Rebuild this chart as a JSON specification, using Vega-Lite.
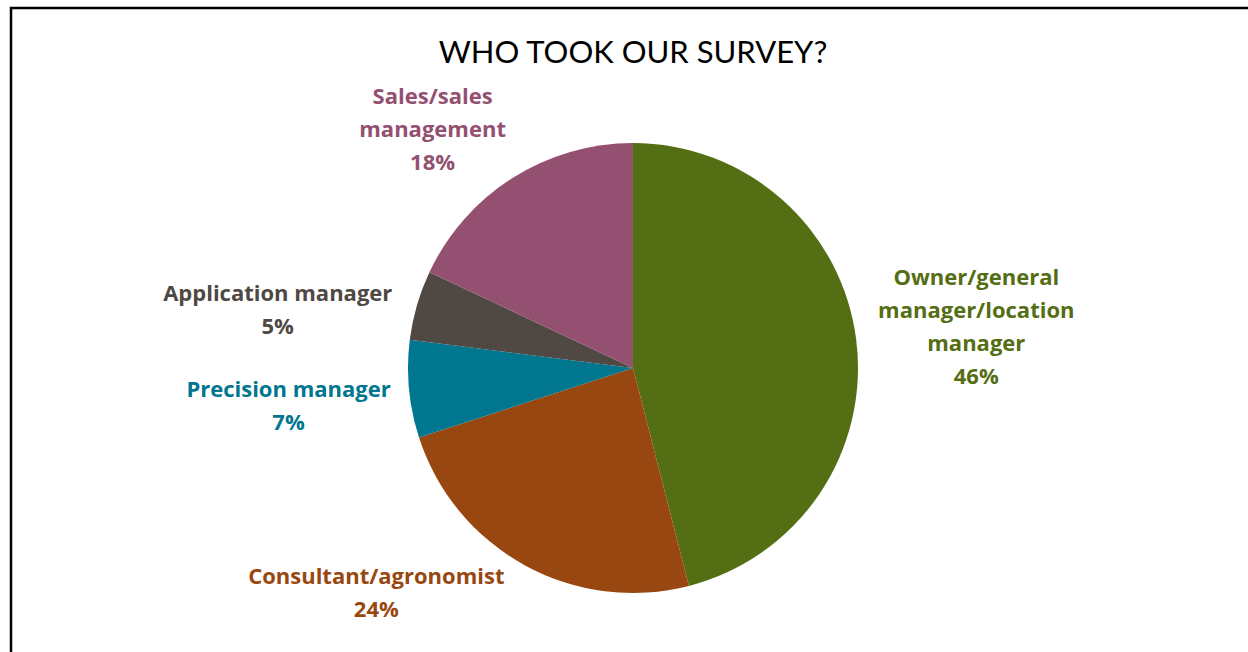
{
  "$schema": "https://vega.github.io/schema/vega-lite/v6.json",
  "width": 1244,
  "height": 720,
  "autosize": {"type": "none"},
  "padding": {"left": 11, "top": 8, "right": -7, "bottom": -76},
  "background": "white",
  "title": {"text": "WHO TOOK OUR SURVEY?", "font": "Lato", "fontSize": 31, "fontWeight": "normal", "color": "#000000", "anchor": "middle", "frame": "group", "offset": -99},
  "data": {"values": [
    {"idx": 1, "category": "Owner/general manager/location manager", "pct": 46, "label": "Owner/general\nmanager/location\nmanager\n46%"},
    {"idx": 2, "category": "Consultant/agronomist", "pct": 24, "label": "Consultant/agronomist\n24%"},
    {"idx": 3, "category": "Precision manager", "pct": 7, "label": "Precision manager\n7%"},
    {"idx": 4, "category": "Application manager", "pct": 5, "label": "Application manager\n5%"},
    {"idx": 5, "category": "Sales/sales management", "pct": 18, "label": "Sales/sales\nmanagement\n18%"}
  ]},
  "layer": [
    {"data": {"values": [{}]},
     "mark": {"type": "rect", "filled": false, "stroke": "#000000", "strokeWidth": 2.5},
     "encoding": {}},
    {"layer": [
      {"mark": {"type": "arc", "outerRadius": 225}},
      {"mark": {"type": "text", "radius": 346, "dy": -47, "font": "Open Sans", "fontSize": 22, "fontWeight": "bold", "lineBreak": "\n", "lineHeight": 33, "align": "center", "baseline": "middle"},
       "encoding": {"text": {"condition": {"test": "datum.idx == 1", "field": "label"}, "value": ""}}},
      {"mark": {"type": "text", "radius": 346, "dy": -11, "font": "Open Sans", "fontSize": 22, "fontWeight": "bold", "lineBreak": "\n", "lineHeight": 33, "align": "center", "baseline": "middle"},
       "encoding": {"text": {"condition": {"test": "datum.idx == 3", "field": "label"}, "value": ""}}},
      {"mark": {"type": "text", "radius": 346, "dx": -23, "dy": 23, "font": "Open Sans", "fontSize": 22, "fontWeight": "bold", "lineBreak": "\n", "lineHeight": 33, "align": "center", "baseline": "middle"},
       "encoding": {"text": {"condition": {"test": "datum.idx == 4", "field": "label"}, "value": ""}}},
      {"mark": {"type": "text", "radius": 346, "dx": -15, "dy": 21, "font": "Open Sans", "fontSize": 22, "fontWeight": "bold", "lineBreak": "\n", "lineHeight": 33, "align": "center", "baseline": "middle"},
       "encoding": {"text": {"condition": {"test": "datum.idx == 5", "field": "label"}, "value": ""}}},
      {"mark": {"type": "text", "radius": 346, "dx": -90, "dy": -94, "font": "Open Sans", "fontSize": 22, "fontWeight": "bold", "lineBreak": "\n", "lineHeight": 33, "align": "center", "baseline": "middle"},
       "encoding": {"text": {"condition": {"test": "datum.idx == 2", "field": "label"}, "value": ""}}}
    ],
    "encoding": {
      "theta": {"field": "pct", "type": "quantitative", "stack": true},
      "order": {"field": "idx", "type": "quantitative", "sort": "ascending"},
      "color": {"field": "category", "type": "nominal", "legend": null,
        "scale": {"domain": ["Owner/general manager/location manager", "Consultant/agronomist", "Precision manager", "Application manager", "Sales/sales management"],
                  "range": ["#546E14", "#984710", "#00768F", "#4F4843", "#945070"]}}
    }}
  ]
}
